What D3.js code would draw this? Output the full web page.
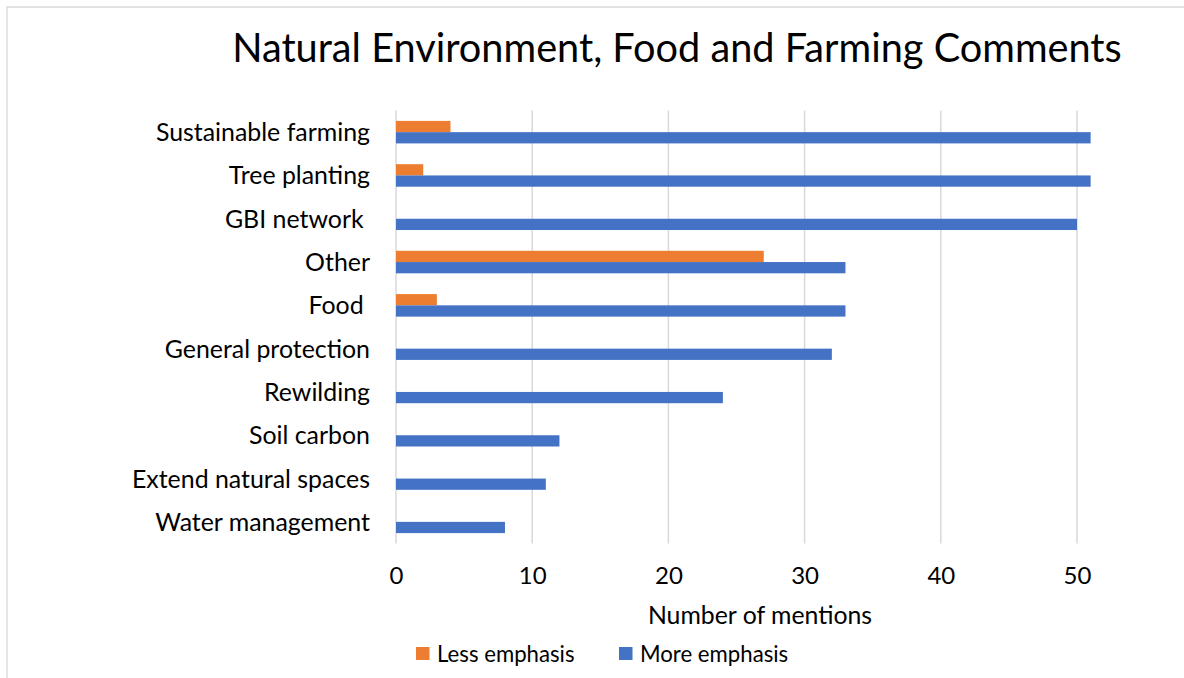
<!DOCTYPE html>
<html>
<head>
<meta charset="utf-8">
<script src="https://cdn.jsdelivr.net/npm/d3@7"></script>
<style>
  html, body { margin: 0; padding: 0; background: #fff; }
  svg { display: block; font-family: "Lato", "Open Sans", sans-serif; }
  text { white-space: pre; }
</style>
</head>
<body>
<svg id="chart" width="1184" height="678"></svg>
<script>
// Comment categories, top to bottom
const categories = [
  "Sustainable farming", "Tree planting", "GBI network ", "Other", "Food ",
  "General protection", "Rewilding", "Soil carbon", "Extend natural spaces", "Water management"
];
// Number of mentions per category
const lessEmphasis = [4, 2, 0, 27, 3, 0, 0, 0, 0, 0];
const moreEmphasis = [51, 51, 50, 33, 33, 32, 24, 12, 11, 8];
const xTicks = [0, 10, 20, 30, 40, 50];
const seriesNames = ["Less emphasis", "More emphasis"];
const colors = ["#ED7D31", "#4472C4"];

const svg = d3.select("#chart");
const W = 1184, H = 678;

// chart frame
svg.append("path")
  .attr("d", `M7,${H} L7,7 L${W},7`)
  .attr("fill", "none").attr("stroke", "#d9d9d9").attr("stroke-width", 1.3);

const plot = { left: 396, right: 1077, top: 110.5, bottom: 543.5 };

const x = d3.scaleLinear().domain([0, 50]).range([plot.left, plot.right]);
const y = d3.scaleBand().domain(categories).range([plot.top, plot.bottom]).paddingInner(0.48).paddingOuter(0.24);

// gridlines
svg.append("g").selectAll("line").data(xTicks).join("line")
  .attr("x1", d => x(d)).attr("x2", d => x(d))
  .attr("y1", plot.top).attr("y2", plot.bottom)
  .attr("stroke", "#d9d9d9").attr("stroke-width", 1.5);

// bars
const half = y.bandwidth() / 2;
const series = [lessEmphasis, moreEmphasis];
series.forEach((vals, si) => {
  svg.append("g").selectAll("rect").data(categories).join("rect")
    .attr("x", x(0))
    .attr("y", (c) => y(c) + si * half)
    .attr("width", (c, i) => Math.max(0, x(vals[i]) - x(0)))
    .attr("height", half)
    .attr("fill", colors[si])
    .attr("display", (c, i) => vals[i] > 0 ? null : "none");
});

// category labels
svg.append("g").selectAll("text").data(categories).join("text")
  .attr("x", 370)
  .attr("y", c => y(c) + half)
  .attr("dy", "0.36em")
  .attr("text-anchor", "end")
  .attr("font-size", 24.9)
  .attr("fill", "#000")
  .text(c => c);

// x axis tick labels
const xAxis = d3.axisBottom(x).tickValues(xTicks).tickSize(0).tickPadding(0);
const gx = svg.append("g").attr("transform", `translate(0,${plot.bottom})`).call(xAxis);
gx.select(".domain").remove();
gx.selectAll("text")
  .attr("y", 31.5).attr("dy", "0.36em")
  .attr("font-size", 24).attr("font-family", "Lato, sans-serif").attr("fill", "#000");

// axis title
svg.append("text")
  .attr("x", 760).attr("y", 615).attr("dy", "0.36em")
  .attr("text-anchor", "middle").attr("font-size", 24.8).attr("fill", "#000")
  .text("Number of mentions");

// title
svg.append("text")
  .attr("x", 677).attr("y", 48).attr("dy", "0.36em")
  .attr("text-anchor", "middle").attr("font-size", 39.7).attr("fill", "#000")
  .text("Natural Environment, Food and Farming Comments");

// legend
const legendX = [416, 619];
const lg = svg.append("g").selectAll("g").data(seriesNames).join("g")
  .attr("transform", (d, i) => `translate(${legendX[i]},653.5)`);
lg.append("rect").attr("x", 0).attr("y", -6.5).attr("width", 13.5).attr("height", 13)
  .attr("fill", (d, i) => colors[i]);
lg.append("text").attr("x", 21).attr("y", 0).attr("dy", "0.36em")
  .attr("font-size", 22.2).attr("fill", "#000").text(d => d);
</script>
</body>
</html>
